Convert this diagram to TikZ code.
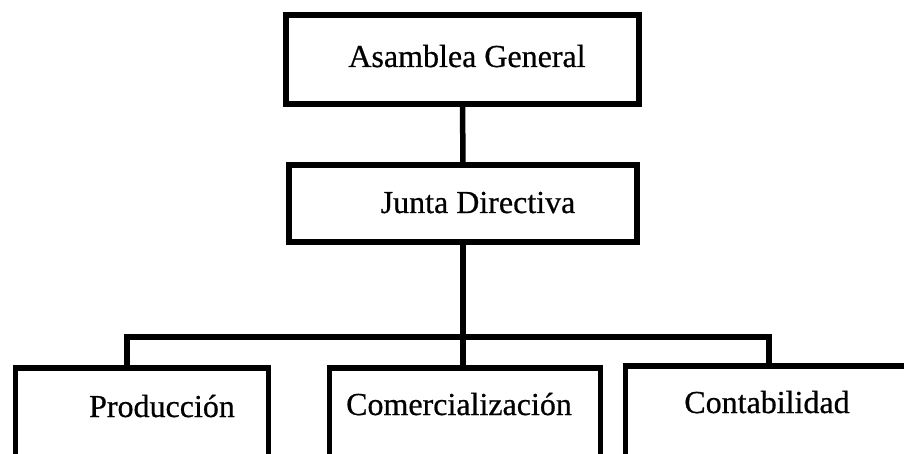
\documentclass[tikz,border=0pt]{standalone}
\usepackage{fontspec}
\setmainfont[FakeBold=0.6,AutoFakeBold=0.6]{Liberation Serif}
\begin{document}
\begin{tikzpicture}[x=1pt,y=1pt,
  orgbox/.style={draw=black,line width=5.5pt,rectangle,inner sep=0pt,outer sep=0pt},
  lbl/.style={anchor=base,inner sep=0pt,font=\fontsize{32}{38}\selectfont\bfseries},
  link/.style={draw=black,line width=5.5pt}]
\useasboundingbox (0,0) rectangle (904,-454);
\clip (0,0) rectangle (904,-454);
% boxes
\node[orgbox,minimum width=353pt,minimum height=89pt] (ag) at (462.5,-59.5) {};
\node[orgbox,minimum width=348pt,minimum height=77pt] (jd) at (463,-203.5) {};
\node[orgbox,minimum width=253pt,minimum height=92pt] (prod) at (142,-414) {};
\node[orgbox,minimum width=271pt,minimum height=92pt] (com) at (465,-414) {};
\node[orgbox,minimum width=285pt,minimum height=94pt] (cont) at (768,-413) {};
% labels
\node[lbl] (tag) at (467,-67) {Asamblea General};
\node[lbl] (tjd) at (478,-213) {Junta Directiva};
\node[lbl] (tprod) at (162,-417) {Producción};
\node[lbl] (tcom) at (459,-415) {Comercialización};
\node[lbl] (tcont) at (767,-413) {Contabilidad};
% connectors
\coordinate (pl) at (127,-337);
\coordinate (pr) at (769,-337);
\draw[link] (ag.south) -- (jd.north);
\draw[link] (jd.south) -- (jd.south |- com.north);
\draw[link,line join=miter] (prod.north -| pl) -- (pl) -- (pr) -- (cont.north -| pr);
\end{tikzpicture}
\end{document}
